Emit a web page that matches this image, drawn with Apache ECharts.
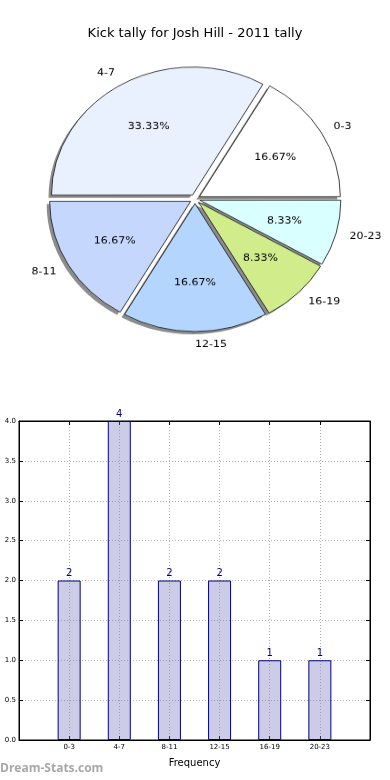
<!DOCTYPE html>
<html><head><meta charset="utf-8">
<script src="https://cdn.jsdelivr.net/npm/echarts@6/dist/echarts.min.js"></script>
<style>
html,body{margin:0;padding:0;background:#fff}
#wrap{position:relative;width:390px;height:780px}
#c{position:absolute;left:0;top:0;width:390px;height:780px}
#p{position:absolute;left:0;top:0;width:390px;height:400px;transform:scaleY(0.908);transform-origin:195px 199px}
</style>
</head><body><div id="wrap"><div id="c"></div><div id="p"></div></div>
<script>
const titleText = 'Kick tally for Josh Hill - 2011 tally';
const categories = ['0-3', '4-7', '8-11', '12-15', '16-19', '20-23'];
const counts = [2, 4, 2, 2, 1, 1];
const pieColors = ['#ffffff', '#eaf1fe', '#c6d7fe', '#b4d6fe', '#d0ec8b', '#d9fffe'];
const yTicks = [0, 0.5, 1, 1.5, 2, 2.5, 3, 3.5, 4];
const xAxisName = 'Frequency';
const watermark = 'Dream-Stats.com';

const FONT = 'DejaVu Sans';
const R = 141;
const CENTER = [195, 199];
const SHADOW_CENTER = [192, 202];
const START = 0.02;

const pieMain = categories.map((c, i) => ({
  name: c, value: counts[i], selected: true,
  itemStyle: { color: pieColors[i] },
  select: { itemStyle: { color: pieColors[i] } }
}));
const pieShadow = categories.map((c, i) => ({ name: c, value: counts[i], selected: true }));
const pieLbl = categories.map((c, i) => ({ name: c, value: counts[i], selected: true }));

const pie = echarts.init(document.getElementById('p'), null, { renderer: 'canvas' });
pie.setOption({
  animation: false,
  textStyle: { fontFamily: FONT },
  series: [{
    type: 'pie', center: SHADOW_CENTER, radius: R, startAngle: START, clockwise: false, z: 1,
    selectedMode: 'multiple', selectedOffset: 5, avoidLabelOverlap: false,
    emphasis: { disabled: true }, silent: true,
    itemStyle: { color: 'rgba(0,0,0,0.45)', borderWidth: 0 },
    select: { itemStyle: { color: 'rgba(0,0,0,0.45)', borderWidth: 0 } },
    label: { show: false }, labelLine: { show: false },
    data: pieShadow
  }, {
    type: 'pie', center: CENTER, radius: R, startAngle: START, clockwise: false, z: 2,
    selectedMode: 'multiple', selectedOffset: 5, avoidLabelOverlap: false,
    emphasis: { disabled: true }, silent: true,
    itemStyle: { borderColor: '#111', borderWidth: 0.8 },
    label: { show: true, position: 'outside', formatter: '{b}', fontFamily: FONT, fontSize: 11, color: '#000', distanceToLabelLine: 0 },
    labelLine: { show: false, length: 14, length2: 0 },
    data: pieMain
  }, {
    type: 'pie', center: CENTER, radius: R * 1.2, startAngle: START, clockwise: false, z: 3,
    selectedMode: 'multiple', selectedOffset: 5, avoidLabelOverlap: false,
    emphasis: { disabled: true }, silent: true,
    itemStyle: { color: 'rgba(0,0,0,0)', borderWidth: 0 },
    select: { itemStyle: { color: 'rgba(0,0,0,0)', borderWidth: 0 } },
    label: { show: true, position: 'inside', formatter: '{d}%', fontFamily: FONT, fontSize: 11, color: '#000' },
    labelLine: { show: false },
    data: pieLbl
  }]
});

const chart = echarts.init(document.getElementById('c'), null, { renderer: 'canvas' });
const axisBase = {
  axisLine: { show: true, onZero: false, lineStyle: { color: '#000' } },
  axisTick: { show: true, inside: true, length: 4, lineStyle: { color: '#000' } }
};
chart.setOption({
  animation: false,
  backgroundColor: '#fff',
  textStyle: { fontFamily: FONT },
  title: {
    text: titleText, left: 'center', top: 22,
    textStyle: { fontFamily: FONT, fontSize: 13, fontWeight: 'normal', color: '#000' }
  },
  graphic: [{
    type: 'text', left: 0, top: 763,
    style: { text: watermark, fill: '#a8a8a8', font: 'bold 12px "Open Sans"' }
  }],
  grid: { left: 19, right: 20, top: 421, bottom: 40, show: true, borderColor: '#000', borderWidth: 1, backgroundColor: '#fff' },
  xAxis: [Object.assign({
    type: 'value', min: -1, max: 6, interval: 1, position: 'bottom',
    name: xAxisName, nameLocation: 'middle', nameGap: 18,
    nameTextStyle: { fontFamily: FONT, fontSize: 10, color: '#000' },
    axisLabel: { fontFamily: FONT, fontSize: 7, color: '#000', margin: 4,
      formatter: v => (v >= 0 && v < categories.length) ? categories[v] : '' },
    splitLine: { show: true, showMinLine: false, showMaxLine: false, lineStyle: { color: '#b0b0b0', type: [1, 2], width: 1 } }
  }, axisBase), Object.assign({
    type: 'value', min: -1, max: 6, interval: 1, position: 'top',
    axisLabel: { show: false }, splitLine: { show: false }
  }, axisBase)],
  yAxis: [Object.assign({
    type: 'value', min: yTicks[0], max: yTicks[yTicks.length - 1], interval: yTicks[1] - yTicks[0], position: 'left',
    axisLabel: { fontFamily: FONT, fontSize: 7, color: '#000', margin: 3, formatter: v => v.toFixed(1) },
    splitLine: { show: true, showMinLine: false, showMaxLine: false, lineStyle: { color: '#b0b0b0', type: [1, 2], width: 1 } }
  }, axisBase), Object.assign({
    type: 'value', min: yTicks[0], max: yTicks[yTicks.length - 1], interval: yTicks[1] - yTicks[0], position: 'right',
    axisLabel: { show: false }, splitLine: { show: false }
  }, axisBase)],
  series: [{
    type: 'bar', xAxisIndex: 0, yAxisIndex: 0, barWidth: 23,
    itemStyle: { color: 'rgba(128,128,192,0.4)', borderColor: '#000080', borderWidth: 1 },
    label: { show: true, position: 'top', distance: 2, fontFamily: FONT, fontSize: 10, color: '#000080' },
    emphasis: { disabled: true },
    data: counts.map((v, i) => [i, v])
  }]
});
</script></body></html>
